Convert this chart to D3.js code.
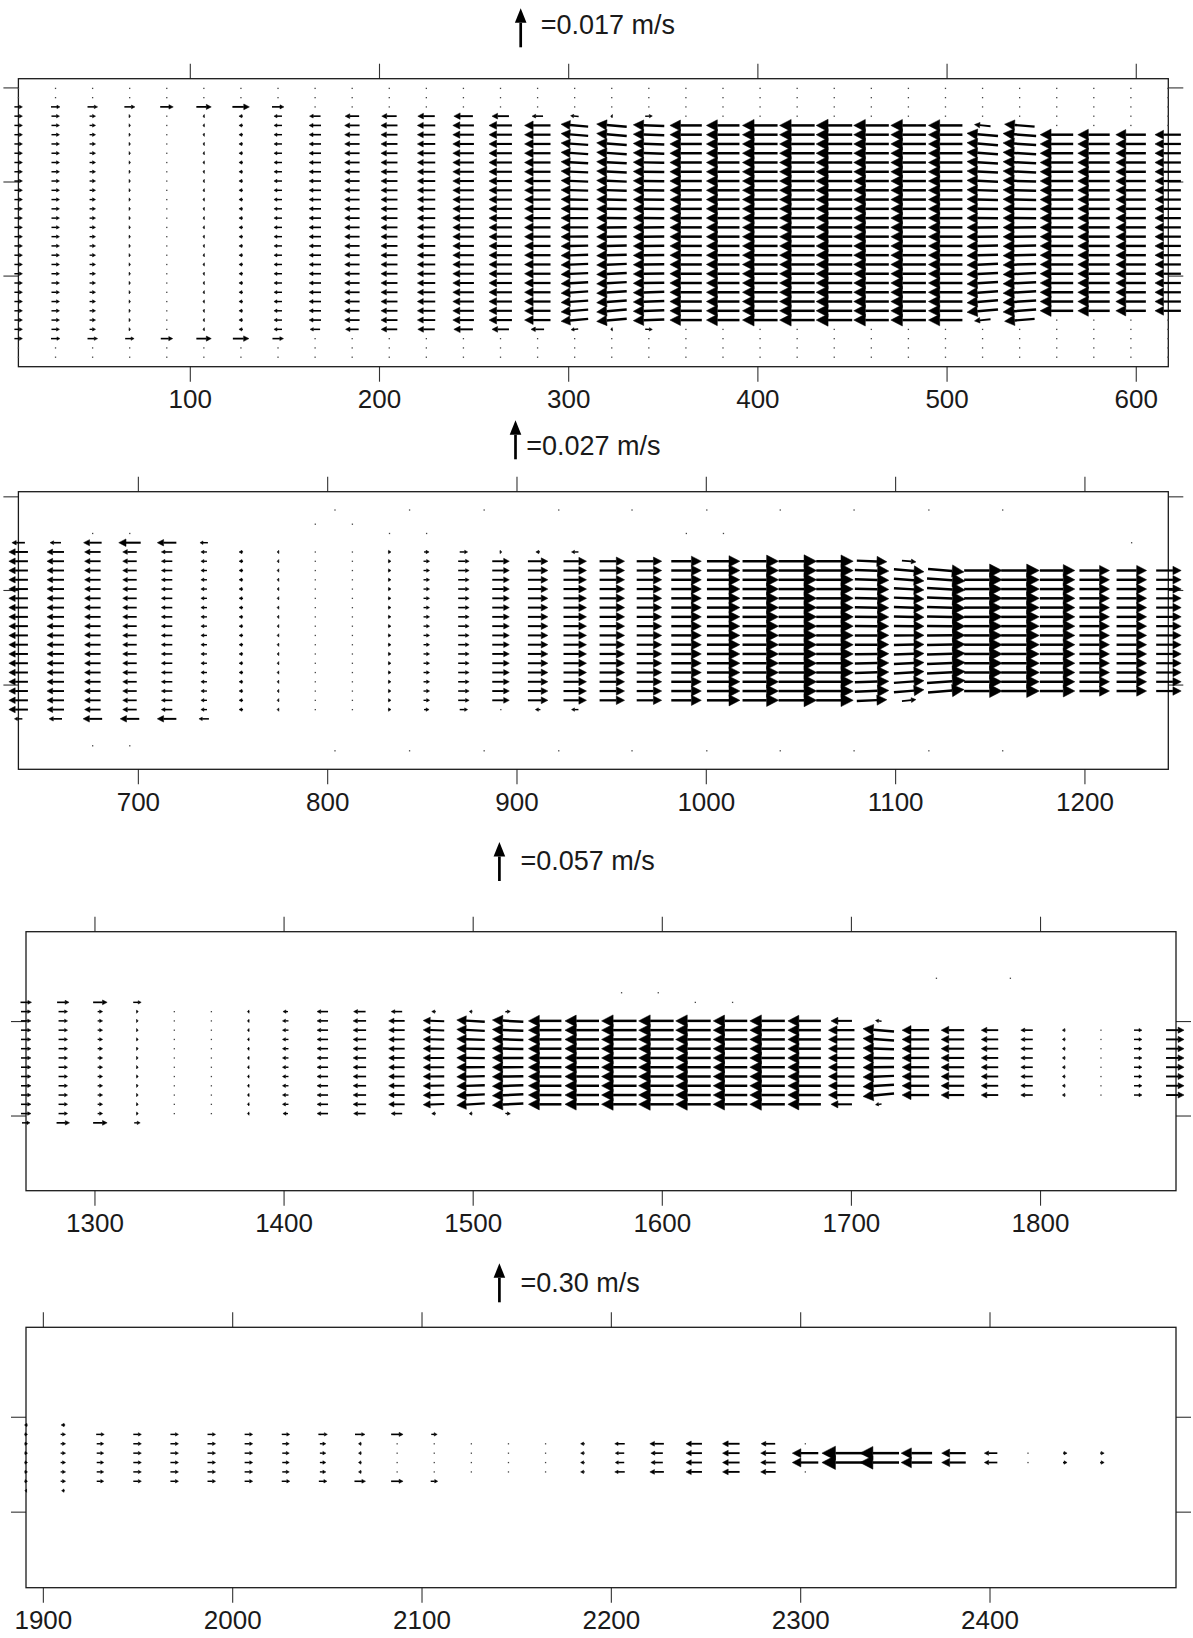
<!DOCTYPE html>
<html><head><meta charset="utf-8">
<script src="https://cdn.jsdelivr.net/npm/d3@7"></script>
<style>body{margin:0;background:#fff}svg{display:block}</style>
</head><body>
<svg id="c" width="1193" height="1638"></svg>
<script>
// ---------------- DATA (velocities in m/s, x in along-channel units, rows = grid row index) -------------
const legendRef = [0.017, 0.027, 0.057, 0.30];
const legendLabels = ["=0.017 m/s", "=0.027 m/s", "=0.057 m/s", "=0.30 m/s"];

const p1XTicks = [100, 200, 300, 400, 500, 600];
const p2XTicks = [700, 800, 900, 1000, 1100, 1200];
const p3XTicks = [1300, 1400, 1500, 1600, 1700, 1800];
const p4XTicks = [1900, 2000, 2100, 2200, 2300, 2400];
const p1YTicks = [-0.1, 10.05, 20.2];
const p2YTicks = [0, 10.1, 20.3];
const p3YTicks = [2.02, 12.21];
const p4YTicks = [-0.88, 9.24];

// panel 1
const p1X = [9.4,29.0,48.6,68.2,87.8,107.4,127.0,146.6,166.2,185.8,205.4,225.0,244.6,264.2,283.8,303.4,323.0,342.6,362.2,381.8,401.4,421.0,440.6,460.2,479.8,499.4,519.0,538.6,558.2,577.8,597.4,617.0];
const p1Rows = [0,1,2,3,4,5,6,7,8,9,10,11,12,13,14,15,16,17,18,19,20,21,22,23,24,25,26,27,28,29];
const p1JTop = [2,2,2,2,2,2,2,2, 3,3,3,3,3,3,3,3,3,3, 4,4,4,4,4,4,4,4,4,4, 5,5,5,5];
const p1JBot = [27,27,27,27,27,27,27,27, 26,26,26,26,26,26,26,26,26,26, 25,25,25,25,25,25,25,25,25,25, 24,24,24,24];
const p1UTop = [0.0035,0.0039,0.0044,0.0046,0.0057,0.0065,0.0074,0.0052, -0.0048,-0.0061,-0.0065,-0.0074,-0.0083,-0.0074,-0.0048,-0.0035,-0.0009,0.0031, -0.0139,-0.0144,-0.0153,-0.0153,-0.0157,-0.0153,-0.0153,-0.0148,-0.0070,-0.0131, -0.0144,-0.0139,-0.0131,-0.0113];
const p1UMid = [0.0035,0.0035,0.0026,0.0007,0.0002,-0.0007,-0.0017,-0.0035, -0.0052,-0.0065,-0.0072,-0.0078,-0.0092,-0.0100,-0.0113,-0.0118,-0.0131,-0.0135, -0.0139,-0.0144,-0.0153,-0.0153,-0.0157,-0.0153,-0.0153,-0.0148,-0.0135,-0.0144, -0.0144,-0.0139,-0.0131,-0.0113];
const p1UBot = [0.0035,0.0039,0.0044,0.0039,0.0052,0.0065,0.0070,0.0048, -0.0044,-0.0057,-0.0070,-0.0074,-0.0083,-0.0074,-0.0057,-0.0031,-0.0009,0.0031, -0.0139,-0.0144,-0.0153,-0.0153,-0.0157,-0.0153,-0.0153,-0.0148,-0.0070,-0.0131, -0.0144,-0.0139,-0.0131,-0.0113];
const p1Tilt = [0,0,0,0,0,0,0,0,0,0,0,0,0,0,0,0.1,0.1,0.04,0,0,0,0,0,0,0,0,0.1,0.08,0,0,0,0];

// panel 2
const p2X = [636.9,656.5,676.1,695.7,715.3,734.9,754.5,774.1,793.7,813.3,832.9,852.5,872.1,891.7,911.3,930.9,950.5,970.1,989.7,1009.3,1028.9,1048.5,1068.1,1087.7,1107.3,1126.9,1146.5,1166.1,1185.7,1205.3,1224.9,1244.5];
const p2JTop = [5,5,5,5,5,5, 6,6,6,6,6,6,6,6,6,6, 7,7,7,7,7,7,7,7,7, 8,8,8,8,8,8,8];
const p2JBot = [24,24,24,24,24,24, 23,23,23,23,23,23,23,23,23,23, 22,22,22,22,22,22,22,22,22, 21,21,21,21,21,21,21];
const p2UTop = [-0.0090,-0.0076,-0.0125,-0.0152,-0.0132,-0.0055, -0.0028,-0.0014,0,0.0007,0.0021,0.0035,0.0055,0.0014,-0.0028,-0.0048, 0.0173,0.0173,0.0208,0.0228,0.0249,0.0263,0.0256,0.0208,0.0097, 0.0249,0.0263,0.0263,0.0242,0.0208,0.0208,0.0173];
const p2UMid = [-0.0132,-0.0118,-0.0111,-0.0097,-0.0076,-0.0042, -0.0028,-0.0014,0,0.0003,0.0021,0.0042,0.0076,0.0118,0.0138,0.0159, 0.0173,0.0173,0.0208,0.0228,0.0249,0.0263,0.0256,0.0235,0.0208, 0.0263,0.0263,0.0263,0.0242,0.0208,0.0208,0.0173];
const p2UBot = [-0.0055,-0.0090,-0.0132,-0.0132,-0.0132,-0.0069, -0.0028,-0.0014,0,0.0007,0.0021,0.0035,0.0055,0.0007,-0.0035,-0.0048, 0.0173,0.0173,0.0208,0.0228,0.0249,0.0263,0.0256,0.0208,0.0097, 0.0249,0.0263,0.0263,0.0242,0.0208,0.0208,0.0173];
const p2Tilt = [0,0,0,0,0,0,0,0,0,0,0,0,0,0,0,0,0,0,0,0,0,0,0,-0.04,-0.1,-0.08,0,0,0,0,0,0];
const p2Dots = [[804.1,1.47],[843.5,1.47],[882.9,1.47],[922.3,1.47],[961.0,1.47],[1000.5,1.47],[1039.3,1.47],[1078.3,1.47],[1117.8,1.47],[1156.8,1.47],
  [804.1,27.44],[843.5,27.44],[882.9,27.44],[922.3,27.44],[961.0,27.44],[1000.5,27.44],[1039.3,27.44],[1078.3,27.44],[1117.8,27.44],[1156.8,27.44],
  [793.7,3.0],[813.3,3.0],[676.1,4.0],[695.7,4.0],[832.9,4.0],[852.5,4.0],[989.7,4.0],[1009.3,4.0],[1224.9,5.0],[676.1,26.9],[695.7,26.9]];

// panel 3
const p3X = [1263.8,1283.4,1303.0,1322.6,1342.2,1361.8,1381.4,1401.0,1420.6,1440.2,1459.8,1479.4,1499.0,1518.6,1538.2,1557.8,1577.4,1597.0,1616.6,1636.2,1655.8,1675.4,1695.0,1714.6,1734.2,1753.8,1773.4,1793.0,1812.6,1832.2,1851.8,1871.4];
const p3JTop = [0,0,0,0, 1,1,1,1,1,1,1,1,1,1, 2,2,2,2,2,2,2,2,2,2, 3,3,3,3,3,3,3,3];
const p3JBot = [13,13,13,13, 12,12,12,12,12,12,12,12,12,12, 11,11,11,11,11,11,11,11,11,11, 10,10,10,10,10,10,10,10];
const p3UTop = [0.0161,0.0175,0.0205,0.0117, 0,0,-0.0029,-0.0073,-0.0161,-0.0175,-0.0161,-0.0058,-0.0044,0.0073, -0.0482,-0.0497,-0.0512,-0.0512,-0.0512,-0.0497,-0.0512,-0.0482,-0.0307,-0.0088, -0.0395,-0.0336,-0.0248,-0.0175,-0.0044,-0.0007,0.0117,0.0263];
const p3UMid = [0.0146,0.0132,0.0073,0.0029, 0,0.0004,-0.0029,-0.0088,-0.0161,-0.0190,-0.0234,-0.0307,-0.0409,-0.0453, -0.0482,-0.0497,-0.0512,-0.0512,-0.0512,-0.0497,-0.0512,-0.0482,-0.0380,-0.0453, -0.0395,-0.0336,-0.0248,-0.0175,-0.0044,-0.0007,0.0117,0.0263];
const p3UBot = [0.0117,0.0190,0.0205,0.0088, 0,0,-0.0029,-0.0073,-0.0161,-0.0175,-0.0161,-0.0058,-0.0044,0.0073, -0.0482,-0.0497,-0.0512,-0.0512,-0.0512,-0.0497,-0.0512,-0.0482,-0.0307,-0.0088, -0.0395,-0.0336,-0.0248,-0.0175,-0.0044,-0.0007,0.0117,0.0263];
const p3Tilt = [0,0,0,0,0,0,0,0,0,0,0,0.04,0.08,0.07,0,0,0,0,0,0,0,0,0,0.12,0,0,0,0,0,0,0,0];
const p3Dots = [[1578.7,-1.04],[1598.1,-1.04],[1617.7,0],[1637.4,0],[1745.2,-2.6],[1784.3,-2.6]];

// panel 4
const p4X = [1891.1,1910.7,1930.3,1949.9,1969.5,1989.1,2008.7,2028.3,2047.9,2067.5,2087.1,2106.7,2126.3,2145.9,2165.5,2185.1,2204.7,2224.3,2243.9,2263.5,2283.1,2302.7,2322.3,2341.9,2361.5,2381.1,2400.7,2420.3,2439.9,2459.5,2479.1,2498.7];
const p4JTop = [0,0, 1,1,1,1,1,1,1,1,1,1, 2,2,2,2,2,2,2,2,2,2, 3,3,3,3,3,3,3,3, null,null];
const p4JBot = [7,7, 6,6,6,6,6,6,6,6,6,6, 5,5,5,5,5,5,5,5,5,5, 4,4,4,4,4,4,4,4, null,null];
const p4UTop = [-0.023,-0.031, 0.062,0.062,0.062,0.062,0.062,0.062,0.069,0.077,0.092,0.046, 0,0,0.004,-0.031,-0.077,-0.108,-0.123,-0.131,-0.108,-0.008, -0.315,-0.300,-0.238,-0.185,-0.100,0,0.031,0.031, null,null];
const p4UMid = [0.023,0.038, 0.054,0.062,0.062,0.062,0.062,0.054,0.046,-0.023,0.004,0.002, 0,0,0.004,-0.031,-0.069,-0.092,-0.123,-0.131,-0.115,-0.200, -0.315,-0.300,-0.238,-0.185,-0.100,0,0.031,0.031, null,null];
const p4UBot = [-0.015,-0.023, 0.054,0.062,0.062,0.062,0.062,0.062,0.062,0.085,0.092,0.054, 0,0,0.004,-0.031,-0.077,-0.108,-0.123,-0.131,-0.115,-0.008, -0.315,-0.300,-0.238,-0.185,-0.100,0,0.031,0.031, null,null];
const p4Tilt = [0,0,0,0,0,0,0,0,0,0,0,0,0,0,0,0,0,0,0,0,0,0,0,0,0,0,0,0,0,0,0,0];

// ---------------- LAYOUT -------------
const FONT = '"Liberation Sans", Arial, Helvetica, sans-serif';
const REF_PX = 39;   // drawn length of the reference arrow
const panels = [
  {frame:{l:18.4,r:1168.3,t:78.7,b:366.7}, xDomain:[9.4,617.2], yDomain:[-1.04,30.03],
   cols:p1X, jTop:p1JTop, jBot:p1JBot, uTop:p1UTop, uMid:p1UMid, uBot:p1UBot, tilt:p1Tilt,
   xTicks:p1XTicks, yTicks:p1YTicks, ref:legendRef[0], label:legendLabels[0],
   legend:{x:520.7, y:47.3, tx:540.7, ty:34}, gridRows:p1Rows, dots:[]},
  {frame:{l:18.4,r:1168.3,t:491.7,b:769.3}, xDomain:[636.9,1244.3], yDomain:[-0.5,29.44],
   cols:p2X, jTop:p2JTop, jBot:p2JBot, uTop:p2UTop, uMid:p2UMid, uBot:p2UBot, tilt:p2Tilt,
   xTicks:p2XTicks, yTicks:p2YTicks, ref:legendRef[1], label:legendLabels[1],
   legend:{x:515.5, y:459.3, tx:526.2, ty:454.5}, gridRows:null, dots:p2Dots},
  {frame:{l:26,r:1176,t:931.7,b:1190.7}, xDomain:[1263.8,1871.9], yDomain:[-7.62,20.32],
   cols:p3X, jTop:p3JTop, jBot:p3JBot, uTop:p3UTop, uMid:p3UMid, uBot:p3UBot, tilt:p3Tilt,
   xTicks:p3XTicks, yTicks:p3YTicks, ref:legendRef[2], label:legendLabels[2],
   legend:{x:499.4, y:881, tx:520.5, ty:870}, gridRows:null, dots:p3Dots},
  {frame:{l:26,r:1176,t:1327.3,b:1587.7}, xDomain:[1891.1,2498.5], yDomain:[-10.42,17.35],
   cols:p4X, jTop:p4JTop, jBot:p4JBot, uTop:p4UTop, uMid:p4UMid, uBot:p4UBot, tilt:p4Tilt,
   xTicks:p4XTicks, yTicks:p4YTicks, ref:legendRef[3], label:legendLabels[3],
   legend:{x:499.4, y:1302.3, tx:520.5, ty:1291.5}, gridRows:null, dots:[]}
];

const svg = d3.select('#c');
svg.append('rect').attr('width',1193).attr('height',1638).attr('fill','#fff');

function styleAxis(sel){
  sel.select('.domain').remove();
  sel.selectAll('.tick line').attr('stroke','#333').attr('stroke-width',1.1);
  sel.selectAll('.tick text').attr('fill','#1a1a1a').style('font-family',FONT).style('font-size','26px');
}

function arrowGeom(px, py, dx, dy, opts){
  const L = Math.hypot(dx, dy);
  const ux = dx / L, uy = dy / L;
  const tx = px - dx/2, ty = py - dy/2;   // tail
  const hx = px + dx/2, hy = py + dy/2;   // tip
  let hl = opts && opts.hl ? opts.hl : Math.max(0.33*L, 3);
  let hw = opts && opts.hw ? opts.hw : Math.max(0.17*L, 1.7);
  if (hl > 0.8*L) hl = 0.8*L;
  const bx = hx - ux*hl, by = hy - uy*hl;
  const nx = -uy, ny = ux;
  return {L, tx, ty, bx, by, hx, hy,
    head:`M${hx},${hy}L${bx+nx*hw},${by+ny*hw}L${bx-nx*hw},${by-ny*hw}Z`};
}

panels.forEach(P => {
  const x = d3.scaleLinear().domain(P.xDomain).range([P.frame.l, P.frame.r]);
  const y = d3.scaleLinear().domain(P.yDomain).range([P.frame.t, P.frame.b]);
  const s = REF_PX / P.ref;                 // px per m/s
  const g = svg.append('g');

  // axes (ticks outward on all four sides)
  g.append('g').attr('transform',`translate(0,${P.frame.b})`)
    .call(d3.axisBottom(x).tickValues(P.xTicks).tickSize(15).tickPadding(7.8).tickFormat(d3.format('d'))).call(styleAxis);
  g.append('g').attr('transform',`translate(0,${P.frame.t})`)
    .call(d3.axisTop(x).tickValues(P.xTicks).tickSize(15).tickFormat('')).call(styleAxis);
  g.append('g').attr('transform',`translate(${P.frame.l},0)`)
    .call(d3.axisLeft(y).tickValues(P.yTicks).tickSize(15).tickFormat('')).call(styleAxis);
  g.append('g').attr('transform',`translate(${P.frame.r},0)`)
    .call(d3.axisRight(y).tickValues(P.yTicks).tickSize(15).tickFormat('')).call(styleAxis);

  g.append('rect').attr('x',P.frame.l).attr('y',P.frame.t)
    .attr('width',P.frame.r-P.frame.l).attr('height',P.frame.b-P.frame.t)
    .attr('fill','none').attr('stroke','#1a1a1a').attr('stroke-width',1.3);

  // build vectors from the data arrays
  const vecs = [];
  const dots = P.dots.map(d => ({x:d[0], j:d[1]}));
  P.cols.forEach((cx, i) => {
    const jt = P.jTop[i], jb = P.jBot[i];
    if (P.gridRows) {
      P.gridRows.forEach(j => { if (jt == null || j < jt || j > jb) dots.push({x:cx, j}); });
    }
    if (jt == null) return;
    const jm = (jt + jb) / 2;
    for (let j = jt; j <= jb; j++) {
      const u = j === jt ? P.uTop[i] : (j === jb ? P.uBot[i] : P.uMid[i]);
      const frac = jb > jt ? (jm - j) / (jm - jt) : 0;
      const v = P.tilt[i] * Math.abs(u) * frac;
      const dx = u * s, dy = -v * s;
      if (Math.hypot(dx, dy) < 1.3) dots.push({x:cx, j});
      else vecs.push(Object.assign({L:Math.hypot(dx,dy)}, arrowGeom(x(cx), y(j), dx, dy)));
    }
  });

  g.append('g').selectAll('rect').data(dots).join('rect')
    .attr('x', d => x(d.x) - 0.6).attr('y', d => y(d.j) - 0.6)
    .attr('width', 1.3).attr('height', 1.3).attr('fill', '#444');

  const vg = g.append('g');
  vg.selectAll('line').data(vecs).join('line')
    .attr('x1', d => d.tx).attr('y1', d => d.ty).attr('x2', d => d.bx).attr('y2', d => d.by)
    .attr('stroke', '#000').attr('stroke-width', d => Math.min(2.5, 1.1 + 0.045*d.L));
  vg.selectAll('path').data(vecs).join('path')
    .attr('d', d => d.head).attr('fill', '#000').attr('stroke','#000').attr('stroke-width',0.5)
    .attr('stroke-linejoin','miter');

  // reference arrow (legend), drawn pointing up with the same scale
  const Lref = P.ref * s;
  const lg = arrowGeom(P.legend.x, P.legend.y - Lref/2, 0, -Lref, {hl:14.5, hw:5.8});
  g.append('line').attr('x1',lg.tx).attr('y1',lg.ty).attr('x2',lg.bx).attr('y2',lg.by)
    .attr('stroke','#000').attr('stroke-width',2.7);
  g.append('path').attr('d',lg.head).attr('fill','#000');
  g.append('text').attr('x',P.legend.tx).attr('y',P.legend.ty)
    .style('font-family',FONT).style('font-size','27px').attr('fill','#1a1a1a')
    .text(P.label);
});
</script>
</body></html>
